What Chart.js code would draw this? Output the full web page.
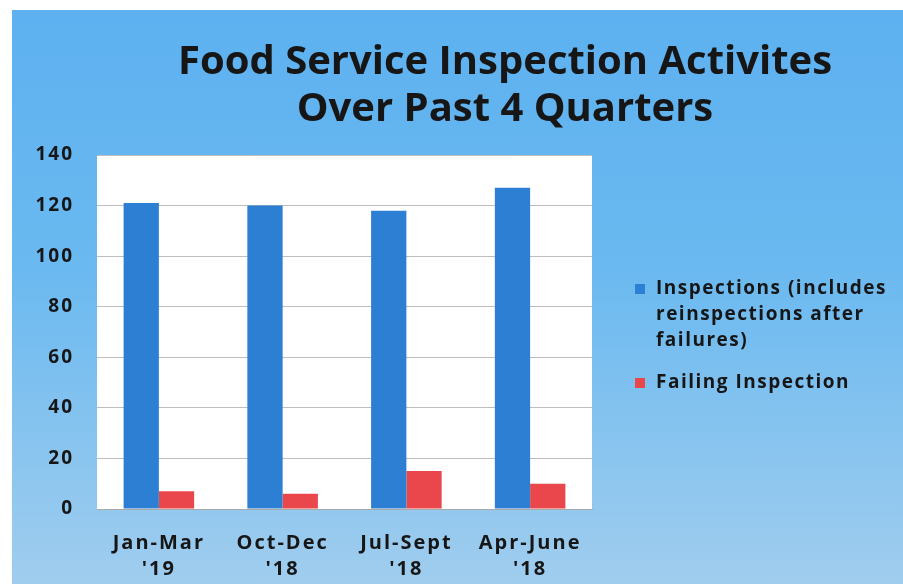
<!DOCTYPE html>
<html>
<head>
<meta charset="utf-8">
<script src="https://cdn.jsdelivr.net/npm/chart.js@4"></script>
<style>
  html, body { margin: 0; padding: 0; background: #fff; }
  #wrap { position: relative; width: 903px; height: 584px; overflow: hidden; }
  #bg {
    position: absolute; left: 12px; top: 10px; right: 0; bottom: 0;
    background: linear-gradient(180deg, #5db1f0 0%, #6ab9f0 45%, #a0cdee 100%);
  }
  canvas { position: absolute; left: 0; top: 0; }
</style>
</head>
<body>
<div id="wrap">
  <div id="bg"></div>
  <canvas id="chart" width="903" height="584"></canvas>
</div>
<script>
const titleLines = ["Food Service Inspection Activites", "Over Past 4 Quarters"];
const categories = [["Jan-Mar", "'19"], ["Oct-Dec", "'18"], ["Jul-Sept", "'18"], ["Apr-June", "'18"]];
const inspections = [121, 120, 118, 127];
const failing = [7, 6, 15, 10];
const seriesLabels = [
    ["Inspections (includes", "reinspections after", "failures)"],
    ["Failing Inspection"]
];
const yMin = 0, yMax = 140, yStep = 20;

const FONT = "'Open Sans', 'DejaVu Sans', sans-serif";
const TEXT = "#161616";

// the scanned original has loosely spaced lettering
const spacing = {
    id: "spacing",
    beforeUpdate(chart) { chart.ctx.letterSpacing = "2px"; },
    beforeDraw(chart) { chart.ctx.letterSpacing = "2px"; }
};

// white plot area behind the bars
const plotBg = {
    id: "plotBg",
    beforeDraw(chart) {
        const { ctx, chartArea: a } = chart;
        ctx.save();
        ctx.fillStyle = "#ffffff";
        ctx.fillRect(a.left, a.top, a.right - a.left, a.bottom - a.top);
        ctx.restore();
    }
};

// title sits off-centre in the original, so it's drawn by hand
const titlePlugin = {
    id: "offTitle",
    afterDraw(chart) {
        const { ctx } = chart;
        ctx.save();
        ctx.letterSpacing = "0px";
        ctx.font = `bold 40px ${FONT}`;
        ctx.fillStyle = TEXT;
        ctx.textAlign = "center";
        ctx.textBaseline = "middle";
        titleLines.forEach((line, i) => ctx.fillText(line, 505, 63 + i * 47));
        ctx.restore();
    }
};

// legend on the right with wrapped labels
const sideLegend = {
    id: "sideLegend",
    afterDraw(chart) {
        const { ctx } = chart;
        ctx.save();
        ctx.letterSpacing = "1.5px";
        ctx.font = `bold 19px ${FONT}`;
        ctx.textBaseline = "middle";
        let y = 289;
        chart.data.datasets.forEach(ds => {
            ctx.fillStyle = ds.backgroundColor;
            ctx.fillRect(635, y - 5, 10, 10);
            ctx.fillStyle = TEXT;
            ds.label.forEach((line, i) => ctx.fillText(line, 656, y + i * 26));
            y += ds.label.length * 26 + 16;
        });
        ctx.restore();
    }
};

new Chart(document.getElementById("chart"), {
    type: "bar",
    data: {
        labels: categories,
        datasets: [
            { label: seriesLabels[0], data: inspections, backgroundColor: "#2c7fd2" },
            { label: seriesLabels[1], data: failing, backgroundColor: "#e9474b" }
        ]
    },
    options: {
        responsive: false,
        animation: false,
        layout: { padding: { left: 34, right: 311, top: 155, bottom: 0 } },
        datasets: { bar: { categoryPercentage: 0.57, barPercentage: 1.0 } },
        plugins: {
            legend: { display: false },
            title: { display: false },
            tooltip: { enabled: false }
        },
        scales: {
            x: {
                grid: { display: false },
                border: { color: "#a9a9a9" },
                ticks: { color: TEXT, font: { family: FONT, size: 20, weight: "bold", lineHeight: 1.3 }, padding: 13 },
                afterFit(scale) { scale.height = 75; }
            },
            y: {
                min: yMin,
                max: yMax,
                grid: { color: "#bdbdbd", drawTicks: false },
                border: { display: false },
                ticks: { stepSize: yStep, color: TEXT, font: { family: FONT, size: 19, weight: "bold" }, padding: 23 },
                afterFit(scale) { scale.width = 63; }
            }
        }
    },
    plugins: [spacing, plotBg, titlePlugin, sideLegend]
});
</script>
</body>
</html>
